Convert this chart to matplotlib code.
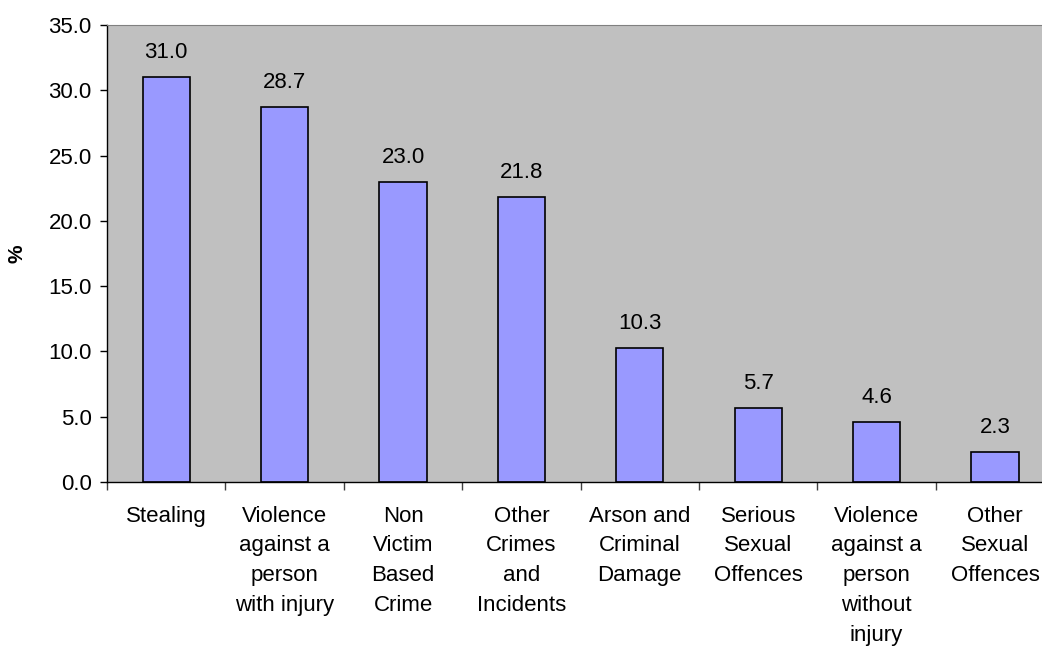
import matplotlib.pyplot as plt
import numpy as np

# Data
categories = [
    "Stealing",
    "Violence\nagainst a\nperson\nwith injury",
    "Non\nVictim\nBased\nCrime",
    "Other\nCrimes\nand\nIncidents",
    "Arson and\nCriminal\nDamage",
    "Serious\nSexual\nOffences",
    "Violence\nagainst a\nperson\nwithout\ninjury",
    "Other\nSexual\nOffences",
]
values = [31.0, 28.7, 23.0, 21.8, 10.3, 5.7, 4.6, 2.3]

plt.rcParams["font.family"] = ["Liberation Sans", "DejaVu Sans"]

fig = plt.figure(figsize=(10.42, 6.48), dpi=100)
ax = fig.add_axes([0.1027, 0.2562, 0.909, 0.7052])
ax.set_facecolor("#C0C0C0")

x = np.arange(len(categories))
bars = ax.bar(x, values, width=0.4, color="#9999FF", edgecolor="black", linewidth=1.2)

for bar, val in zip(bars, values):
    ax.annotate(
        f"{val:.1f}",
        (bar.get_x() + bar.get_width() / 2, bar.get_height()),
        xytext=(0, 10),
        textcoords="offset points",
        ha="center",
        va="bottom",
        fontsize=16,
    )

ax.set_xlim(-0.5, len(categories) - 0.5)
ax.set_ylim(0, 35)
ax.set_yticks(np.arange(0, 35.1, 5))
ax.set_yticklabels([f"{v:.1f}" for v in np.arange(0, 35.1, 5)], fontsize=16)
ax.tick_params(axis="y", length=5, width=1, pad=6)

ax.set_xticks(x)
ax.set_xticklabels(categories, fontsize=16, linespacing=1.55, va="top")
ax.tick_params(axis="x", which="major", length=0, pad=17)
ax.set_xticks(np.arange(-0.5, len(categories), 1), minor=True)
ax.tick_params(axis="x", which="minor", length=6, width=1, color="#404040")

ax.set_ylabel("%", fontsize=15, fontweight="bold")
ax.yaxis.set_label_coords(-0.085, 0.5)

ax.spines["top"].set_color("#808080")
ax.spines["right"].set_visible(False)
ax.spines["left"].set_linewidth(1)
ax.spines["bottom"].set_linewidth(1)

plt.savefig("out.png", dpi=100)
